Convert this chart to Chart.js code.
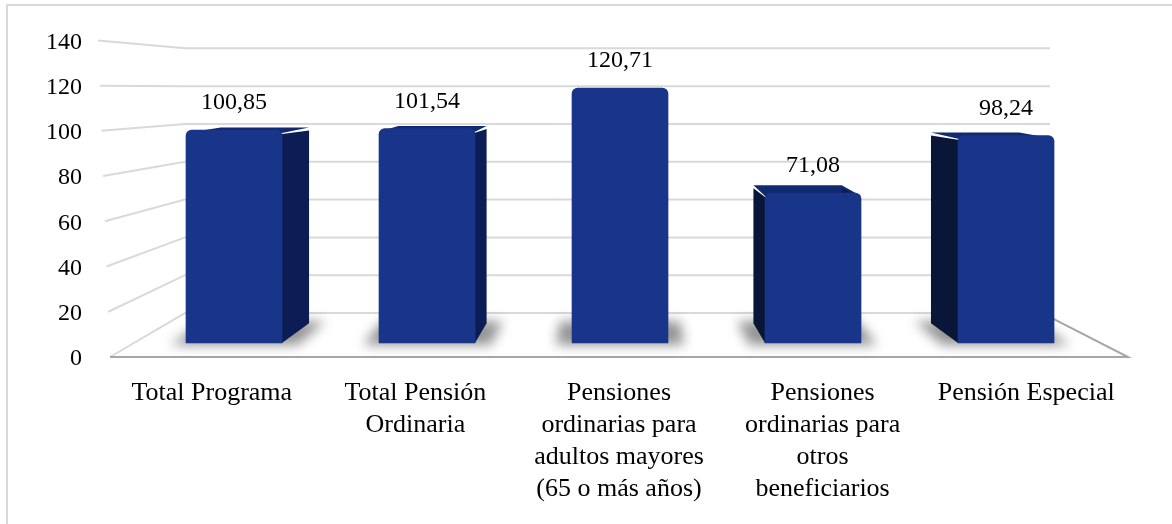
<!DOCTYPE html>
<html lang="es">
<head>
<meta charset="UTF-8">
<title>Pensiones</title>
<script src="https://cdn.jsdelivr.net/npm/chart.js"></script>
<style>
  body { margin: 0; background: #fff; }
  #wrap { position: relative; width: 1172px; height: 524px; overflow: hidden; }
  #frame { position: absolute; left: 6px; top: 4px; width: 1200px; height: 600px;
           border-left: 2px solid #d9d9d9; border-top: 2px solid #d9d9d9; }
  #box { position: absolute; left: 0; top: 0; width: 1172px; height: 524px; }
</style>
</head>
<body>
<div id="wrap">
  <div id="frame"></div>
  <div id="box"><canvas id="chart"></canvas></div>
</div>
<script>
const categories = [
  ['Total Programa'],
  ['Total Pensión', 'Ordinaria'],
  ['Pensiones', 'ordinarias para', 'adultos mayores', '(65 o más años)'],
  ['Pensiones', 'ordinarias para', 'otros', 'beneficiarios'],
  ['Pensión Especial']
];
const values = [100.85, 101.54, 120.71, 71.08, 98.24];
const yTicks = [0, 20, 40, 60, 80, 100, 120, 140];

const FONT = "'Palatino Linotype', 'Book Antiqua', Palatino, 'Liberation Serif', serif";
const VP = { x: 620, y: 96 };   // vanishing point of the fake 3D
const DEPTH = 0.92;

const fmt = v => v.toFixed(2).replace('.', ',');

const scene3d = {
  id: 'scene3d',
  beforeDatasetsDraw(chart) {
    const { ctx, chartArea: a, scales } = chart;
    const yl = scales.yl, yb = scales.y;
    const base = yb.getPixelForValue(0);
    const backY = v => base - 30 - (base - yb.getPixelForValue(v)) * 0.8955;
    const backL = a.left + 75, backR = a.right - 78;

    ctx.save();
    // walls / gridlines
    ctx.strokeStyle = '#d9d9d9';
    ctx.lineWidth = 2;
    yTicks.forEach(v => {
      const lx = a.left - 12 * v / 140, ly = yl.getPixelForValue(v) - 2;
      ctx.beginPath();
      ctx.moveTo(lx, ly);
      ctx.lineTo(backL, backY(v));
      ctx.lineTo(backR, backY(v));
      ctx.stroke();
    });
    // floor edges
    ctx.strokeStyle = '#a6a6a6';
    ctx.beginPath();
    ctx.moveTo(a.left, a.bottom - 2);
    ctx.lineTo(a.right, a.bottom - 2);
    ctx.lineTo(backR, backY(0) + 4);
    ctx.stroke();

    const px = X => VP.x + (X - VP.x) * DEPTH;
    const py = Y => VP.y + (Y - VP.y) * DEPTH;
    const poly = (pts, fill) => {
      ctx.fillStyle = fill;
      ctx.beginPath();
      pts.forEach((p, i) => i ? ctx.lineTo(p[0], p[1]) : ctx.moveTo(p[0], p[1]));
      ctx.closePath();
      ctx.fill();
    };

    const bars = chart.getDatasetMeta(0).data;
    // shadows
    bars.forEach(bar => {
      const { x, width, base: b } = bar.getProps(['x', 'width', 'base'], true);
      const L = x - width / 2, R = x + width / 2;
      ctx.save();
      ctx.filter = 'blur(6px)';
      poly([[L - 16, b + 2], [R + 16, b + 2], [px(R) + 16, py(b) - 2], [px(L) - 16, py(b) - 2]], 'rgba(0,0,0,0.42)');
      ctx.restore();
    });
    // side and top faces (hidden ones end up under the front face)
    bars.forEach(bar => {
      const { x, y, width, base: b } = bar.getProps(['x', 'y', 'width', 'base'], true);
      const L = x - width / 2, R = x + width / 2;
      poly([[L, y + 3], [R, y + 3], [px(R), py(y)], [px(L), py(y)]], '#11296f');
      poly([[R, y + 4], [R, b], [px(R), py(b)], [px(R), py(y) + 3]], '#0c1d55');
      poly([[L, y + 4], [L, b], [px(L), py(b)], [px(L), py(y) + 3]], '#0a1638');
    });
    ctx.restore();
  },
  afterDatasetsDraw(chart) {
    const { ctx } = chart;
    ctx.save();
    ctx.font = `24px ${FONT}`;
    ctx.fillStyle = '#000';
    ctx.textAlign = 'center';
    ctx.textBaseline = 'middle';
    chart.getDatasetMeta(0).data.forEach((bar, i) => {
      ctx.fillText(fmt(values[i]), bar.x, bar.y - 27);
    });
    ctx.restore();
  }
};

new Chart(document.getElementById('chart'), {
  type: 'bar',
  data: {
    labels: categories,
    datasets: [{
      data: values.map((v, i) => ({ x: i, y: v })),
      xAxisID: 'xb',
      yAxisID: 'y',
      backgroundColor: '#18358a',
      borderRadius: 6,
      barThickness: 96
    }]
  },
  options: {
    responsive: true,
    maintainAspectRatio: false,
    animation: false,
    layout: { padding: { left: 40, top: 42, right: 44, bottom: 0 } },
    plugins: {
      legend: { display: false },
      tooltip: { enabled: false }
    },
    scales: {
      x: {
        type: 'category',
        position: 'bottom',
        grid: { display: false, drawTicks: false },
        border: { display: false },
        ticks: {
          autoSkip: false, maxRotation: 0, padding: 18, color: '#000',
          font: { family: FONT, size: 26, lineHeight: '32px' }
        },
        afterFit: s => { s.height = 165; }
      },
      xb: { type: 'linear', display: false, offset: false, grid: { offset: false }, min: -0.6425, max: 4.632 },
      yl: {
        type: 'linear',
        position: 'left',
        min: 0, max: 140,
        grid: { display: false, drawTicks: false },
        border: { display: false },
        ticks: { stepSize: 20, padding: 28, color: '#000', font: { family: FONT, size: 24 } },
        afterFit: s => { s.width = 70; }
      },
      y: { type: 'linear', display: false, min: -7.57, max: 142.4 }
    }
  },
  plugins: [scene3d]
});
</script>
</body>
</html>
